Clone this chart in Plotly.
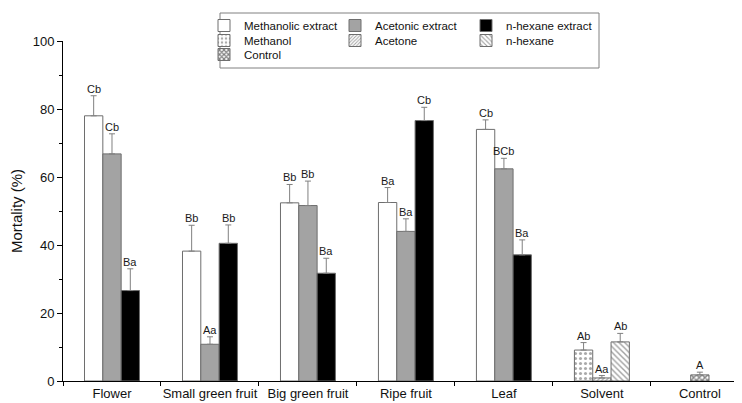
import plotly.graph_objects as go

categories = ["Flower", "Small green fruit", "Big green fruit", "Ripe fruit", "Leaf", "Solvent", "Control"]
extract_cats = categories[:5]

methanolic = [78.0, 38.2, 52.4, 52.5, 74.0]
methanolic_err = [5.9, 7.6, 5.4, 4.4, 2.8]
methanolic_lbl = ["Cb", "Bb", "Bb", "Ba", "Cb"]

acetonic = [66.8, 10.8, 51.6, 44.0, 62.4]
acetonic_err = [5.9, 2.2, 7.2, 3.7, 3.1]
acetonic_lbl = ["Cb", "Aa", "Bb", "Ba", "BCb"]

hexane = [26.6, 40.5, 31.7, 76.6, 37.1]
hexane_err = [6.4, 5.4, 4.4, 3.9, 4.4]
hexane_lbl = ["Ba", "Bb", "Ba", "Cb", "Ba"]

methanol_val = [9.1]
methanol_err = [2.2]
acetone_val = [0.9]
acetone_err = [0.7]
nhexane_val = [11.5]
nhexane_err = [2.5]
solvent_lbl = ["Ab", "Aa", "Ab"]

control_val = [1.8]
control_err = [0.8]
control_lbl = ["A"]

W = 0.187
series = [
    # name, x, y, err, labels, fill, pattern, slot, legend
    ("Methanolic extract", extract_cats, methanolic, methanolic_err, methanolic_lbl, "white", None, -1, "legend"),
    ("Acetonic extract", extract_cats, acetonic, acetonic_err, acetonic_lbl, "#a3a3a3", None, 0, "legend"),
    ("n-hexane extract", extract_cats, hexane, hexane_err, hexane_lbl, "black", None, 1, "legend"),
    ("Methanol", ["Solvent"], methanol_val, methanol_err, solvent_lbl[0:1], "white",
     dict(shape=".", fgcolor="#555555", bgcolor="white", size=5, solidity=0.3), -1, "legend2"),
    ("Acetone", ["Solvent"], acetone_val, acetone_err, solvent_lbl[1:2], "white",
     dict(shape="/", fgcolor="#444444", bgcolor="white", size=3, solidity=0.4), 0, "legend2"),
    ("n-hexane", ["Solvent"], nhexane_val, nhexane_err, solvent_lbl[2:3], "white",
     dict(shape="\\", fgcolor="#444444", bgcolor="white", size=4, solidity=0.35), 1, "legend2"),
    ("Control", ["Control"], control_val, control_err, control_lbl, "white",
     dict(shape="x", fgcolor="black", bgcolor="white", size=4, solidity=0.6), 0, "legend3"),
]

fig = go.Figure()
annotations = []
for name, xs, ys, errs, lbls, fill, patt, slot, leg in series:
    off = slot * W - W / 2
    marker = dict(color=fill, line=dict(color="#6e6e6e", width=1))
    if patt:
        marker["pattern"] = patt
    fig.add_trace(go.Bar(
        name=name, x=xs, y=ys, width=W, offset=off, marker=marker, legend=leg,
        error_y=dict(type="data", array=errs, arrayminus=[0] * len(errs), symmetric=False,
                     color="#808080", thickness=1, width=3),
    ))
    for xc, yv, ev, lb in zip(xs, ys, errs, lbls):
        annotations.append(dict(
            x=categories.index(xc) + slot * W, y=yv + ev, text=lb, showarrow=False,
            xref="x", yref="y", yanchor="bottom", yshift=-1,
            font=dict(family="Arial, Liberation Sans", size=11, color="#1a1a1a"),
        ))

legend_common = dict(orientation="h", bgcolor="rgba(0,0,0,0)", borderwidth=0,
                     font=dict(family="Arial, Liberation Sans", size=11.5, color="#111111"),
                     entrywidth=86, entrywidthmode="pixels", xanchor="left", yanchor="top",
                     itemclick=False, itemdoubleclick=False)

# The page body adds an 8px offset; plot area in page pixels: x 63..742, y 41..381
def px_x(p):
    return (p - 63) / 679.0

def px_y(p):
    return (381 - p) / 340.0

fig.update_layout(
    width=734, height=395,
    margin=dict(l=55, r=0, t=33, b=22, autoexpand=False),
    paper_bgcolor="white", plot_bgcolor="white",
    barmode="overlay",
    showlegend=True,
    legend=dict(**legend_common, x=px_x(204), y=px_y(11), traceorder="normal"),
    legend2=dict(**legend_common, x=px_x(204), y=px_y(26), traceorder="normal"),
    legend3=dict(**legend_common, x=px_x(204), y=px_y(40), traceorder="normal"),
    annotations=annotations,
    shapes=[dict(type="rect", xref="paper", yref="paper", x0=px_x(220), x1=px_x(599),
                 y0=px_y(68), y1=px_y(13),
                 line=dict(color="#808080", width=1), fillcolor="rgba(0,0,0,0)")],
    font=dict(family="Arial, Liberation Sans", color="#111111"),
)
fig.update_xaxes(type="category", categoryorder="array", categoryarray=categories,
                 range=[-0.5, 6.43], showline=True, linecolor="black", linewidth=1,
                 ticks="outside", tickson="boundaries", ticklen=4, tickcolor="black",
                 tickangle=0, automargin=False,
                 tickfont=dict(size=13), showgrid=False, zeroline=False)
fig.update_yaxes(range=[0, 100], tickvals=[0, 20, 40, 60, 80, 100], showline=True, linecolor="black",
                 linewidth=1, ticks="outside", ticklen=5, tickcolor="black", tickfont=dict(size=13),
                 minor=dict(dtick=10, ticks="outside", ticklen=3, tickcolor="black", showgrid=False),
                 showgrid=False, zeroline=False, automargin=False,
                 title=dict(text="Mortality (%)", font=dict(size=15), standoff=12))

fig.write_html("out.html")
